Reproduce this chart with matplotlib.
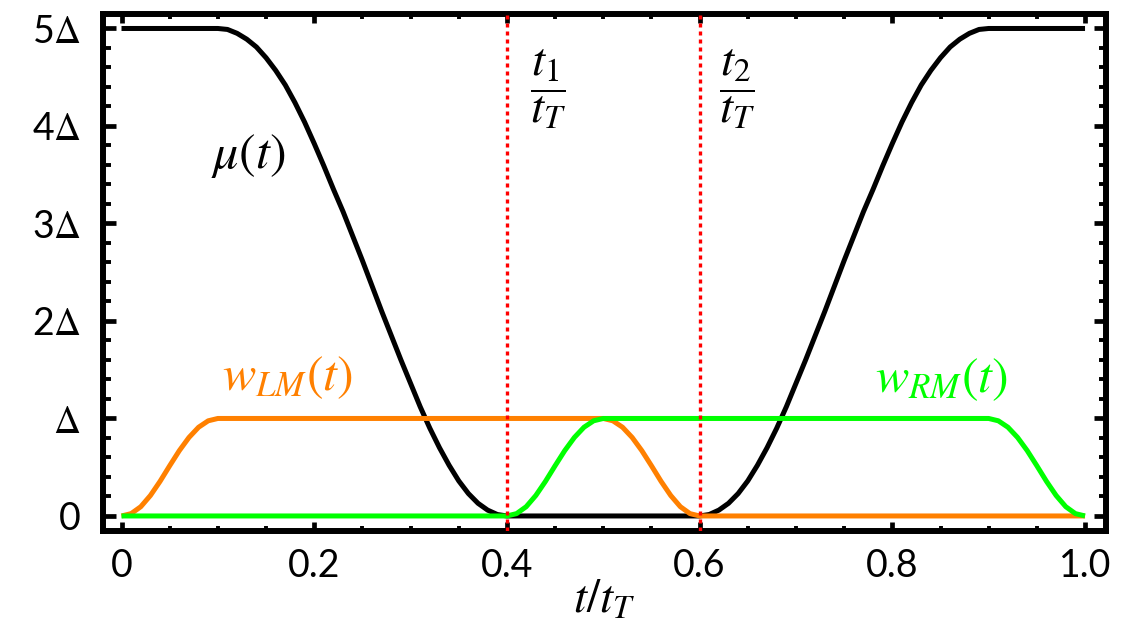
import matplotlib
matplotlib.use("Agg")
import matplotlib.pyplot as plt
from matplotlib.ticker import MultipleLocator

# chemical potential mu(t), in units of Delta
t_mu = [0.00, 0.10, 0.11, 0.12, 0.13, 0.14, 0.15, 0.16, 0.17, 0.18, 0.19, 0.20,
        0.21, 0.22, 0.23, 0.24, 0.25, 0.26, 0.27, 0.28, 0.29, 0.30,
        0.31, 0.32, 0.33, 0.34, 0.35, 0.36, 0.37, 0.38, 0.39, 0.40,
        0.60, 0.61, 0.62, 0.63, 0.64, 0.65, 0.66, 0.67, 0.68, 0.69, 0.70,
        0.71, 0.72, 0.73, 0.74, 0.75, 0.76, 0.77, 0.78, 0.79, 0.80,
        0.81, 0.82, 0.83, 0.84, 0.85, 0.86, 0.87, 0.88, 0.89, 0.90, 1.00]
mu = [5.00, 5.00, 4.99, 4.95, 4.89, 4.81, 4.70, 4.57, 4.42, 4.24, 4.04, 3.82,
      3.59, 3.35, 3.12, 2.87, 2.62, 2.36, 2.10, 1.85, 1.60, 1.36,
      1.12, 0.90, 0.70, 0.52, 0.36, 0.23, 0.13, 0.06, 0.015, 0.00,
      0.00, 0.015, 0.06, 0.13, 0.23, 0.36, 0.52, 0.70, 0.90, 1.12, 1.36,
      1.60, 1.85, 2.10, 2.36, 2.62, 2.87, 3.12, 3.35, 3.59, 3.82,
      4.04, 4.24, 4.42, 4.57, 4.70, 4.81, 4.89, 4.95, 4.99, 5.00, 5.00]

# coupling w_LM(t)
t_lm = [0.00, 0.01, 0.02, 0.03, 0.04, 0.05, 0.06, 0.07, 0.08, 0.09, 0.10,
        0.50, 0.51, 0.52, 0.53, 0.54, 0.55, 0.56, 0.57, 0.58, 0.59, 0.60, 1.00]
w_lm = [0.00, 0.024, 0.095, 0.21, 0.355, 0.515, 0.67, 0.805, 0.91, 0.976, 1.00,
        1.00, 0.976, 0.91, 0.805, 0.67, 0.515, 0.355, 0.21, 0.095, 0.024, 0.00, 0.00]

# coupling w_RM(t)
t_rm = [0.00, 0.40, 0.41, 0.42, 0.43, 0.44, 0.45, 0.46, 0.47, 0.48, 0.49, 0.50,
        0.90, 0.91, 0.92, 0.93, 0.94, 0.95, 0.96, 0.97, 0.98, 0.99, 1.00]
w_rm = [0.00, 0.00, 0.024, 0.095, 0.21, 0.355, 0.515, 0.67, 0.805, 0.91, 0.976, 1.00,
        1.00, 0.976, 0.91, 0.805, 0.67, 0.515, 0.355, 0.21, 0.095, 0.024, 0.00]

t_marks = [0.4, 0.6]
x_ticks = [0, 0.2, 0.4, 0.6, 0.8, 1.0]
x_labels = ["0", "0.2", "0.4", "0.6", "0.8", "1.0"]
y_ticks = [0, 1, 2, 3, 4, 5]
y_labels = ["0", r"$\Delta$", r"2$\Delta$", r"3$\Delta$", r"4$\Delta$", r"5$\Delta$"]

plt.rcParams['font.family'] = ['Lato', 'DejaVu Sans']
plt.rcParams['mathtext.fontset'] = 'stix'

orange = '#ff8000'
green = '#00ff00'

fig = plt.figure(figsize=(11.27, 6.34), dpi=100)
ax = fig.add_axes([0.0914, 0.1625, 0.890, 0.8155])

line_kw = dict(lw=3.6, solid_joinstyle='round', solid_capstyle='butt')
ax.plot(t_mu, mu, color='black', zorder=2, **line_kw)
ax.plot(t_lm, w_lm, color=orange, zorder=3, **line_kw)
ax.plot(t_rm, w_rm, color=green, zorder=4, **line_kw)
for tm in t_marks:
    ax.axvline(tm, color='red', lw=2.4, linestyle=(0, (1.2, 1.2)), zorder=5)

ax.text(0.132, 3.69, r"$\mu(t)$", fontsize=36, ha='center', va='center')
ax.text(0.172, 1.42, r"$w_{LM}(t)$", fontsize=36, ha='center', va='center', color=orange)
ax.text(0.851, 1.40, r"$w_{RM}(t)$", fontsize=36, ha='center', va='center', color=green)
ax.text(0.443, 4.38, r"$\dfrac{t_1}{t_T}$", fontsize=34, ha='center', va='center')
ax.text(0.639, 4.38, r"$\dfrac{t_2}{t_T}$", fontsize=34, ha='center', va='center')

ax.set_xlim(-0.0192, 1.0218)
ax.set_ylim(-0.154, 5.149)
ax.set_xticks(x_ticks)
ax.set_xticklabels(x_labels)
ax.set_yticks(y_ticks)
ax.set_yticklabels(y_labels)
ax.xaxis.set_minor_locator(MultipleLocator(0.05))
ax.yaxis.set_minor_locator(MultipleLocator(0.2))

ax.tick_params(which='both', direction='in', top=True, right=True, labelsize=27)
ax.tick_params(axis='x', which='major', length=6.5, width=3.4, pad=12)
ax.tick_params(axis='x', which='minor', length=3.5, width=2.8)
ax.tick_params(axis='y', which='major', length=9, width=3.4, pad=16)
ax.tick_params(axis='y', which='minor', length=5.4, width=2.8)
for s in ax.spines.values():
    s.set_linewidth(4.3)

ax.set_xlabel(r"$t/t_T$", fontsize=34, labelpad=-4)

fig.savefig("out.png", dpi=100)
